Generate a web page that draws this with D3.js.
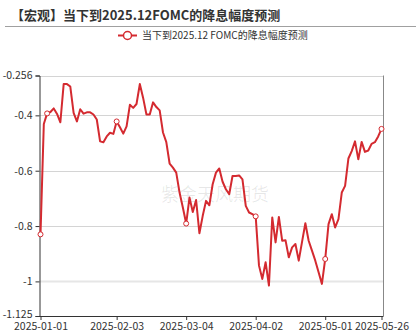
<!DOCTYPE html>
<html><head><meta charset="utf-8">
<script src="https://cdn.jsdelivr.net/npm/d3@7"></script>
<style>
html,body{margin:0;padding:0;background:#fff;}
svg{display:block;font-family:"Noto Sans CJK SC","Noto Sans",sans-serif;}
</style></head>
<body><svg id="c" width="417" height="334"></svg>
<script>
const titleText = "【宏观】当下到2025.12FOMC的降息幅度预测";
const seriesName = "当下到2025.12 FOMC的降息幅度预测";
const watermark = "紫金天风期货";
// weekday categories from 2025-01-01 to 2025-05-26
const startDate = "2025-01-01", endDate = "2025-05-26";
const categories = [];
(function(){
  let d = new Date(startDate + "T00:00:00Z");
  const e = new Date(endDate + "T00:00:00Z");
  while (d <= e) {
    const w = d.getUTCDay();
    if (w !== 0 && w !== 6) categories.push(d.toISOString().slice(0,10));
    d = new Date(d.getTime() + 86400000);
  }
})();
const values = [
-0.830,-0.431,-0.393,-0.388,-0.375,-0.395,-0.425,-0.287,-0.287,-0.296,
-0.391,-0.422,-0.378,-0.394,-0.389,-0.389,-0.397,-0.415,-0.494,-0.497,
-0.476,-0.463,-0.467,-0.422,-0.443,-0.466,-0.440,-0.362,-0.373,-0.359,
-0.287,-0.337,-0.397,-0.397,-0.353,-0.370,-0.382,-0.462,-0.497,-0.574,
-0.589,-0.607,-0.679,-0.733,-0.791,-0.697,-0.749,-0.706,-0.826,-0.763,
-0.709,-0.725,-0.649,-0.607,-0.592,-0.640,-0.667,-0.685,-0.619,-0.619,
-0.617,-0.631,-0.727,-0.751,-0.757,-0.765,-0.943,-0.991,-0.931,-1.015,
-0.769,-0.859,-0.767,-0.853,-0.851,-0.913,-0.877,-0.865,-0.925,-0.857,
-0.790,-0.853,-0.889,-0.925,-0.967,-1.009,-0.919,-0.793,-0.757,-0.805,
-0.775,-0.679,-0.655,-0.556,-0.529,-0.494,-0.559,-0.496,-0.532,-0.527,
-0.503,-0.497,-0.476,-0.449
];
const xTickLabels = ["2025-01-01","2025-02-03","2025-03-04","2025-04-02","2025-05-01","2025-05-26"];
const markerDates = ["2025-01-01","2025-01-03","2025-02-03","2025-03-04","2025-04-02","2025-05-01","2025-05-26"];
const yTicks = [-0.256,-0.4,-0.6,-0.8,-1,-1.125];
const yDomain = [-1.125,-0.256];

const data = categories.map((c,i)=>({date:c, value:values[i]}));
const svg = d3.select("#c");
const L = 39.5, R = 383, T = 75.5, B = 316;
const color = "#d42a30";
const axisFont = "'Noto Sans CJK SC',sans-serif";

const x = d3.scalePoint().domain(categories).range([40.5, 381.5]);
const y = d3.scaleLinear().domain(yDomain).range([B, T]);

// title
svg.append("text").attr("x",11).attr("y",20).attr("font-size",13).attr("font-weight","bold")
  .attr("fill","#333").text(titleText);
svg.append("line").attr("x1",5).attr("x2",416).attr("y1",26.5).attr("y2",26.5)
  .attr("stroke","#a0a0a0").attr("stroke-width",1);

// legend
const lg = svg.append("g");
lg.append("line").attr("x1",118).attr("x2",137).attr("y1",35.5).attr("y2",35.5).attr("stroke",color).attr("stroke-width",2);
lg.append("circle").attr("cx",127.5).attr("cy",35.5).attr("r",4).attr("fill","#fff").attr("stroke",color).attr("stroke-width",1.5);
lg.append("text").attr("x",142).attr("y",39).attr("font-size",10).attr("fill","#333").text(seriesName);

// watermark
svg.append("text").attr("x",215).attr("y",201).attr("text-anchor","middle").attr("font-size",18)
  .attr("fill","#000").attr("fill-opacity",0.09).text(watermark);

// grid
svg.append("g").selectAll("line").data(yTicks.filter(v=>v!==-1.125)).join("line")
  .attr("x1",L).attr("x2",R).attr("y1",d=>Math.round(y(d))+0.5).attr("y2",d=>Math.round(y(d))+0.5)
  .attr("stroke",d=>d===-1?"#e6e6e6":"#d4d4d4").attr("stroke-width",d=>d===-1?2:1);

// right border
svg.append("line").attr("x1",R+0.5).attr("x2",R+0.5).attr("y1",T).attr("y2",B).attr("stroke","#888").attr("stroke-width",1);

// y axis
const yAxis = d3.axisLeft(y).tickValues(yTicks).tickSize(4).tickPadding(3)
  .tickFormat(d=>String(d));
const gy = svg.append("g").attr("transform",`translate(${L},0)`).call(yAxis);
gy.select(".domain").attr("stroke","#333");
gy.selectAll(".tick line").attr("stroke","#333");
gy.selectAll(".tick text").attr("font-size",10.5).attr("fill","#333").attr("font-family",axisFont)
  .attr("dy", d=>d===-1.125?"0.1em":"0.32em");

// x axis
const xAxis = d3.axisBottom(x).tickValues(xTickLabels).tickSize(4).tickPadding(3);
const gx = svg.append("g").attr("transform",`translate(0,${B})`).call(xAxis);
gx.select(".domain").attr("d",`M${L},0.5H${R+0.5}`).attr("stroke","#333");
gx.selectAll(".tick line").attr("stroke","#333");
gx.selectAll(".tick text").attr("font-size",10.5).attr("fill","#333").attr("font-family",axisFont);

// line
svg.append("path").datum(data).attr("fill","none").attr("stroke",color).attr("stroke-width",2)
  .attr("stroke-linejoin","round")
  .attr("d", d3.line().x(d=>x(d.date)).y(d=>y(d.value)));

// markers
svg.append("g").selectAll("circle").data(data.filter(d=>markerDates.includes(d.date))).join("circle")
  .attr("cx",d=>x(d.date)).attr("cy",d=>y(d.value)).attr("r",2.5)
  .attr("fill","#fff").attr("stroke",color).attr("stroke-width",1);
</script></body></html>
